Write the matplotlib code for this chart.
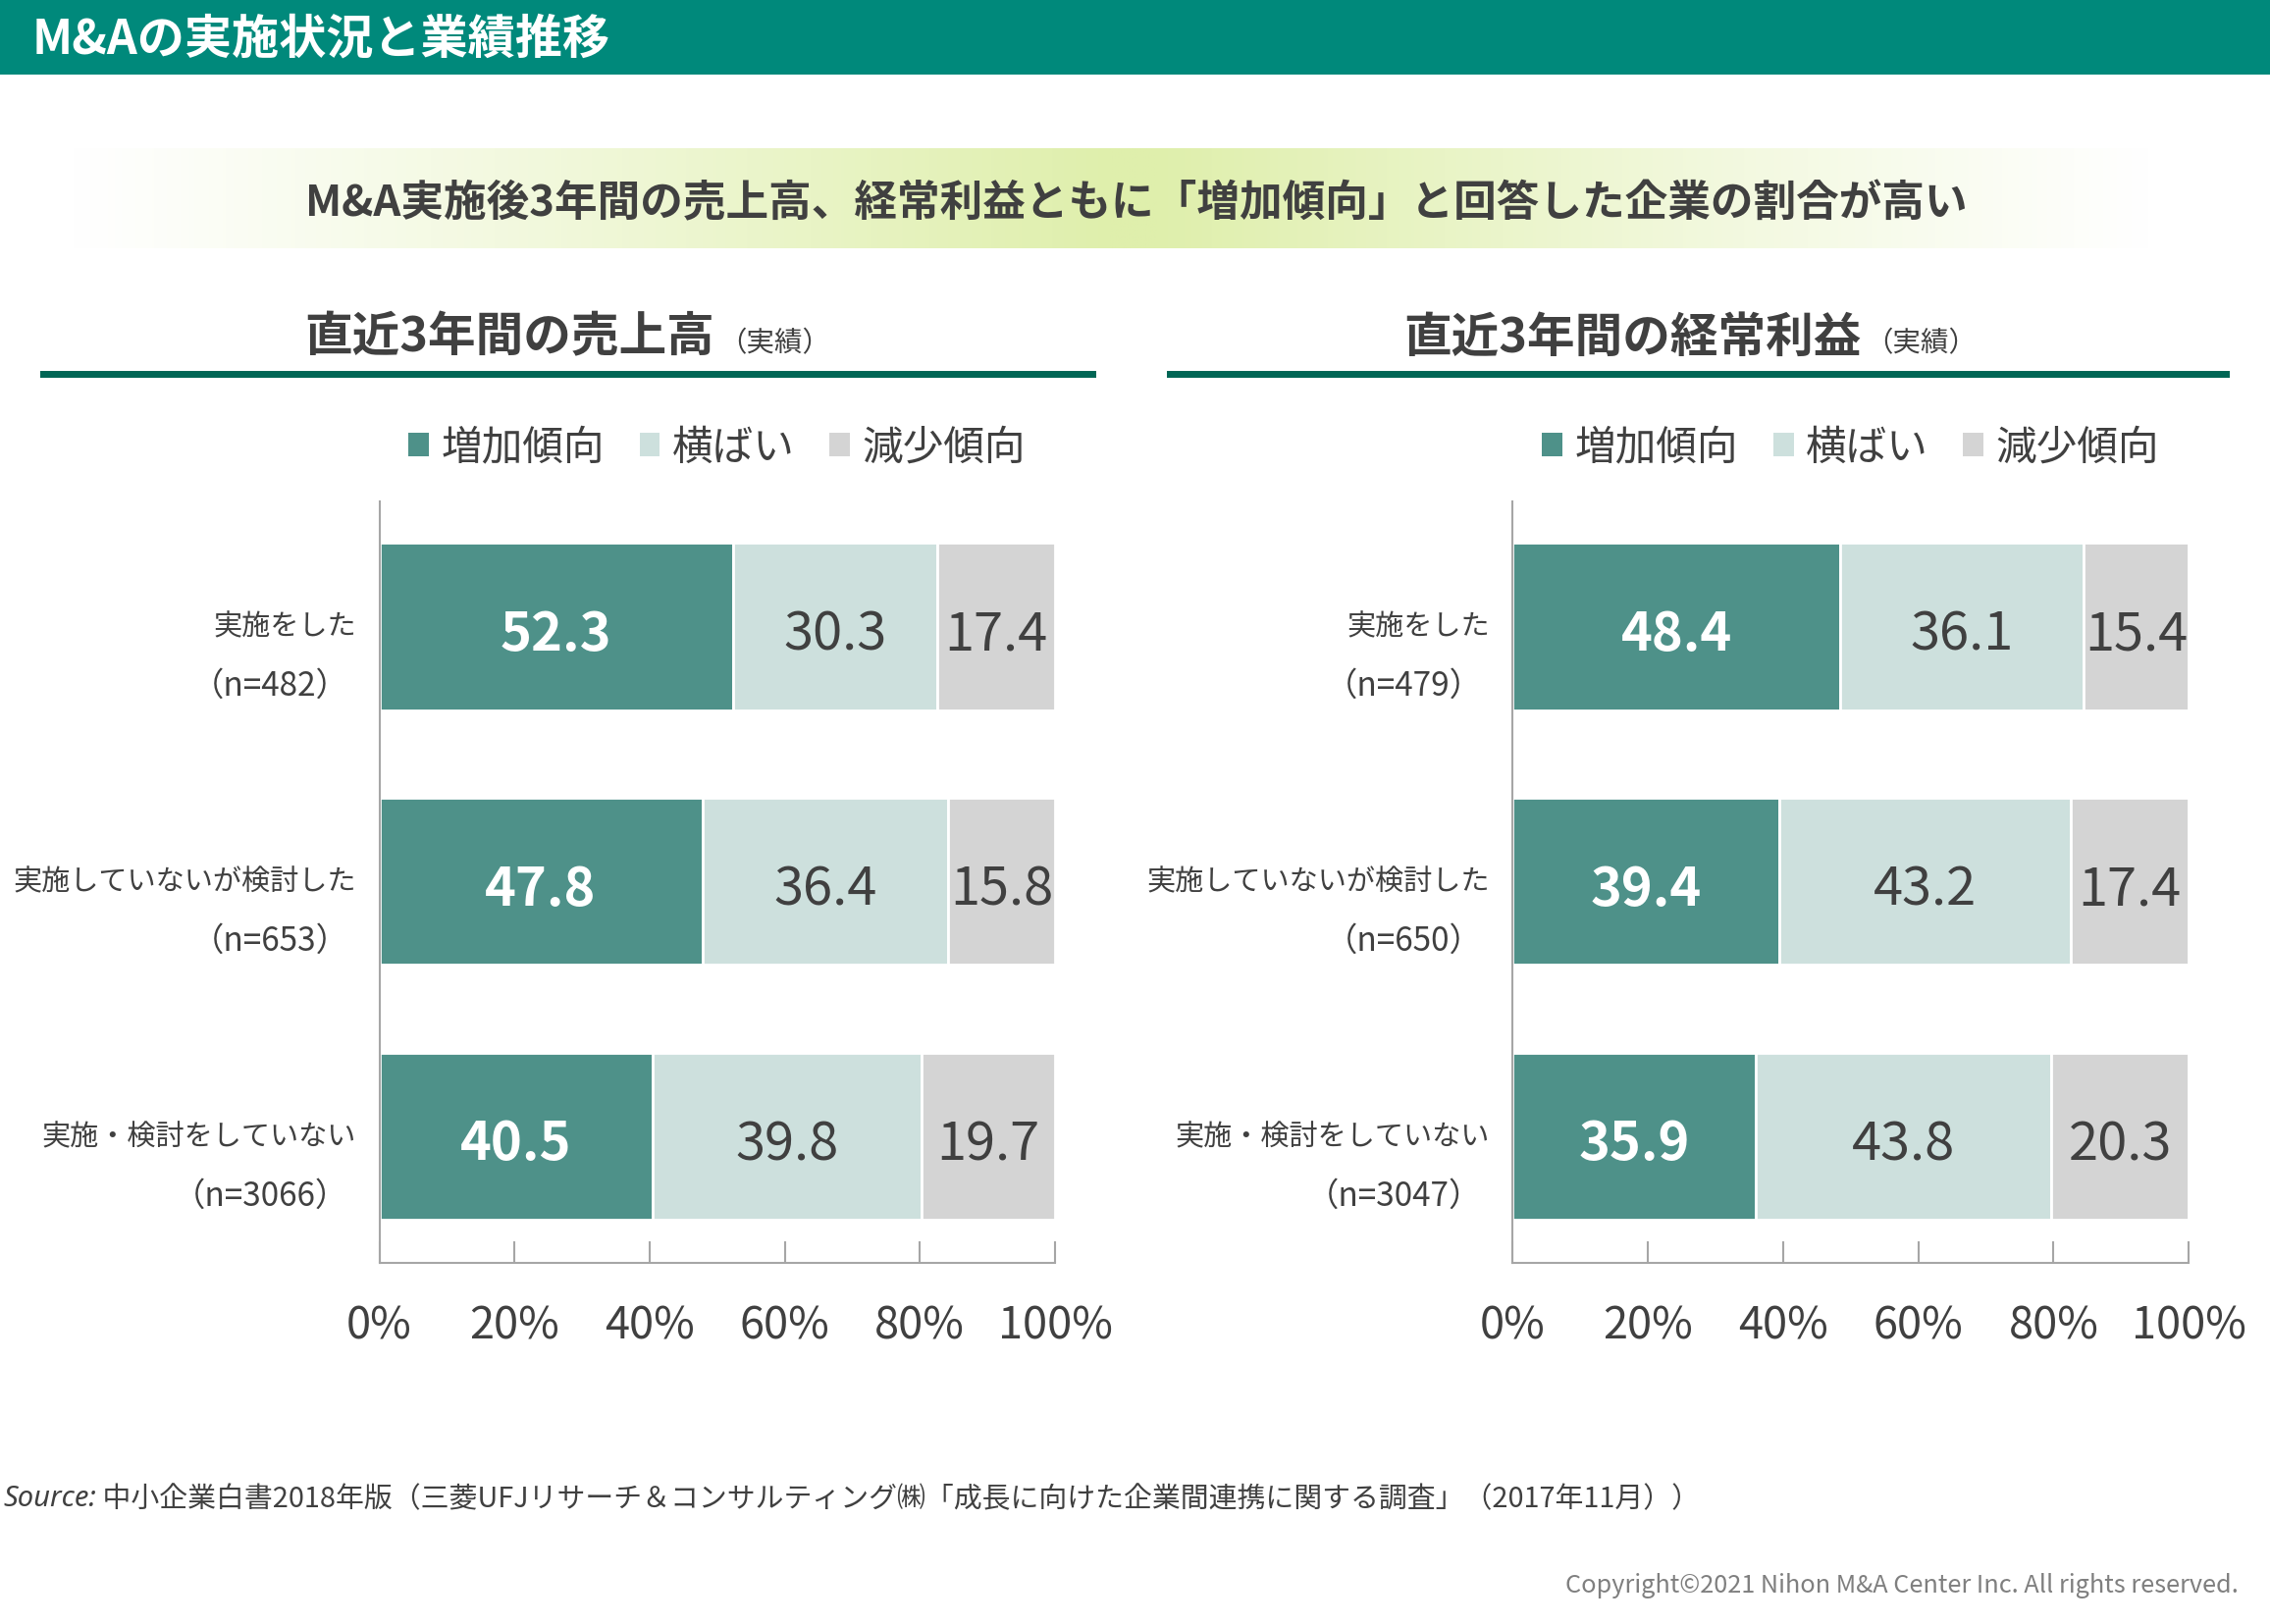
import matplotlib
matplotlib.use('Agg')
import matplotlib.pyplot as plt
import numpy as np
from matplotlib.patches import Rectangle, Patch
from matplotlib.transforms import blended_transform_factory
from matplotlib.colors import LinearSegmentedColormap

plt.rcParams['font.family'] = ['Noto Sans CJK JP', 'DejaVu Sans']

# ---------------- data ----------------
categories = ['実施をした', '実施していないが検討した', '実施・検討をしていない']
series_names = ['増加傾向', '横ばい', '減少傾向']

sales_n = [482, 653, 3066]
sales_inc = [52.3, 47.8, 40.5]
sales_flat = [30.3, 36.4, 39.8]
sales_dec = [17.4, 15.8, 19.7]

profit_n = [479, 650, 3047]
profit_inc = [48.4, 39.4, 35.9]
profit_flat = [36.1, 43.2, 43.8]
profit_dec = [15.4, 17.4, 20.3]

x_ticks = [0, 20, 40, 60, 80, 100]
x_tick_labels = ['0%', '20%', '40%', '60%', '80%', '100%']

header_title = 'M&Aの実施状況と業績推移'
banner_text = 'M&A実施後3年間の売上高、経常利益ともに「増加傾向」と回答した企業の割合が高い'
left_title = '直近3年間の売上高'
right_title = '直近3年間の経常利益'
title_note = '（実績）'
source_label = 'Source:'
source_text = ' 中小企業白書2018年版（三菱UFJリサーチ＆コンサルティング㈱「成長に向けた企業間連携に関する調査」（2017年11月））'
copyright_text = 'Copyright©2021 Nihon M&A Center Inc. All rights reserved.'

# ---------------- style ----------------
colors = ['#4E9189', '#CDE0DD', '#D4D4D4']
text_dark = '#404040'
axis_grey = '#A6A6A6'

W, H = 2313, 1656
DPI = 100
fig = plt.figure(figsize=(W / DPI, H / DPI), dpi=DPI)


def fx(x):
    return x / W


def fy(y):
    return 1 - y / H


# gradient banner (drawn first, below the overlay)
bax = fig.add_axes([0, fy(254), fx(2264), (254 - 152) / H])
xs = np.linspace(0, 1, 800)
prof = np.clip(np.minimum((xs - 0.03) / 0.47, (0.97 - xs) / 0.45), 0, 1)
prof = prof ** 1.1
cmap = LinearSegmentedColormap.from_list('bn', ['#FFFFFF', '#DFEFAC'])
bax.imshow(prof[np.newaxis, :], aspect='auto', cmap=cmap, vmin=0, vmax=1,
           extent=[0, 1, 0, 1])
bax.axis('off')

# overlay for figure-level text
ov = fig.add_axes([0, 0, 1, 1])
ov.set_xlim(0, 1)
ov.set_ylim(0, 1)
ov.axis('off')
ov.set_zorder(10)

# header band
ov.add_patch(Rectangle((0, fy(77)), 1, 77 / H, facecolor='#00897B', edgecolor='none', zorder=0))
ov.text(fx(33), fy(40), header_title, color='white', fontsize=34.7, fontweight='bold',
        va='center', ha='left')

ov.text(fx(1158), fy(207), banner_text, color=text_dark, fontsize=31.4, fontweight='bold',
        ha='center', va='center', zorder=5)

# subtitles + underlines
for (tx, title, lx0, lx1) in [(310, left_title, 41, 1117), (1430, right_title, 1189, 2272)]:
    t = ov.text(fx(tx), fy(344), title, color=text_dark, fontsize=35, fontweight='bold',
                ha='left', va='center')
    ov.annotate(title_note, xy=(1, 0.38), xycoords=t, xytext=(3, 0), textcoords='offset points',
                color=text_dark, fontsize=20.5, ha='left', va='center')
    ov.add_patch(Rectangle((fx(lx0), fy(386)), (lx1 - lx0) / W, 7 / H,
                           facecolor='#006655', edgecolor='none'))

# ---------------- charts ----------------
ax_bottom = 1288
ax_top = 512
axL = fig.add_axes([fx(386.5), fy(ax_bottom), (1075 - 386.5) / W, (ax_bottom - ax_top) / H])
axR = fig.add_axes([fx(1541.4), fy(ax_bottom), (2230.2 - 1541.4) / W, (ax_bottom - ax_top) / H])


def draw(ax, inc, flat, dec, ns):
    y = np.arange(len(categories))
    left = np.zeros(len(categories))
    for k, (vals, col) in enumerate(zip([inc, flat, dec], colors)):
        vals = np.asarray(vals)
        ax.barh(y, vals, left=left, height=0.655, color=col, edgecolor='white',
                linewidth=2, zorder=2)
        for yi, (l, v) in enumerate(zip(left, vals)):
            if k == 0:
                ax.text(l + v / 2, yi + 0.03, f'{v:.1f}', color='white', fontsize=39,
                        fontweight='bold', ha='center', va='center', zorder=3)
            else:
                ax.text(l + v / 2, yi + 0.03, f'{v:.1f}', color=text_dark, fontsize=39,
                        ha='center', va='center', zorder=3)
        left = left + vals
    ax.set_xlim(0, 100)
    ax.set_ylim(2.497, -0.491)
    ax.set_xticks(x_ticks)
    ax.set_xticklabels(x_tick_labels)
    ax.tick_params(axis='x', direction='in', length=16, width=1.5, color=axis_grey,
                   labelsize=32.5, labelcolor=text_dark, pad=29)
    ax.tick_params(axis='y', left=False, labelleft=False)
    for s in ['top', 'right']:
        ax.spines[s].set_visible(False)
    for s in ['left', 'bottom']:
        ax.spines[s].set_color(axis_grey)
        ax.spines[s].set_linewidth(1.5)
    trans = blended_transform_factory(ax.transAxes, ax.transData)
    xl = -23.5 / 688.6
    xn = -31 / 688.6
    for yi, (cat, n) in enumerate(zip(categories, ns)):
        ax.text(xl, yi, cat, transform=trans, ha='right', va='center', fontsize=21,
                color=text_dark)
        ax.text(xn, yi + 0.232, f'（n={n}）', transform=trans, ha='right', va='center',
                fontsize=24, color=text_dark)
    handles = [Patch(facecolor=c, edgecolor='none', label=l) for c, l in zip(colors, series_names)]
    leg = ax.legend(handles=handles, loc='center', bbox_to_anchor=(0.5, 1 + 55 / 776), ncol=3,
                    frameon=False, fontsize=30, handlelength=0.5, handleheight=0.5,
                    handletextpad=0.3, columnspacing=0.85, borderaxespad=0, borderpad=0)
    for t in leg.get_texts():
        t.set_color(text_dark)


draw(axL, sales_inc, sales_flat, sales_dec, sales_n)
draw(axR, profit_inc, profit_flat, profit_dec, profit_n)

# source & copyright
src = ov.text(fx(3), fy(1528), source_label, family=['Noto Sans', 'DejaVu Sans'], style='italic',
              fontsize=21, color=text_dark, ha='left', va='center')
ov.annotate(source_text, xy=(1, 0.5), xycoords=src, xytext=(0, 0), textcoords='offset points',
            fontsize=20.8, color=text_dark, ha='left', va='center')
ov.text(fx(2281), fy(1616), copyright_text, fontsize=18.2, color='#7F7F7F', ha='right', va='center')

fig.savefig('out.png', dpi=DPI)
